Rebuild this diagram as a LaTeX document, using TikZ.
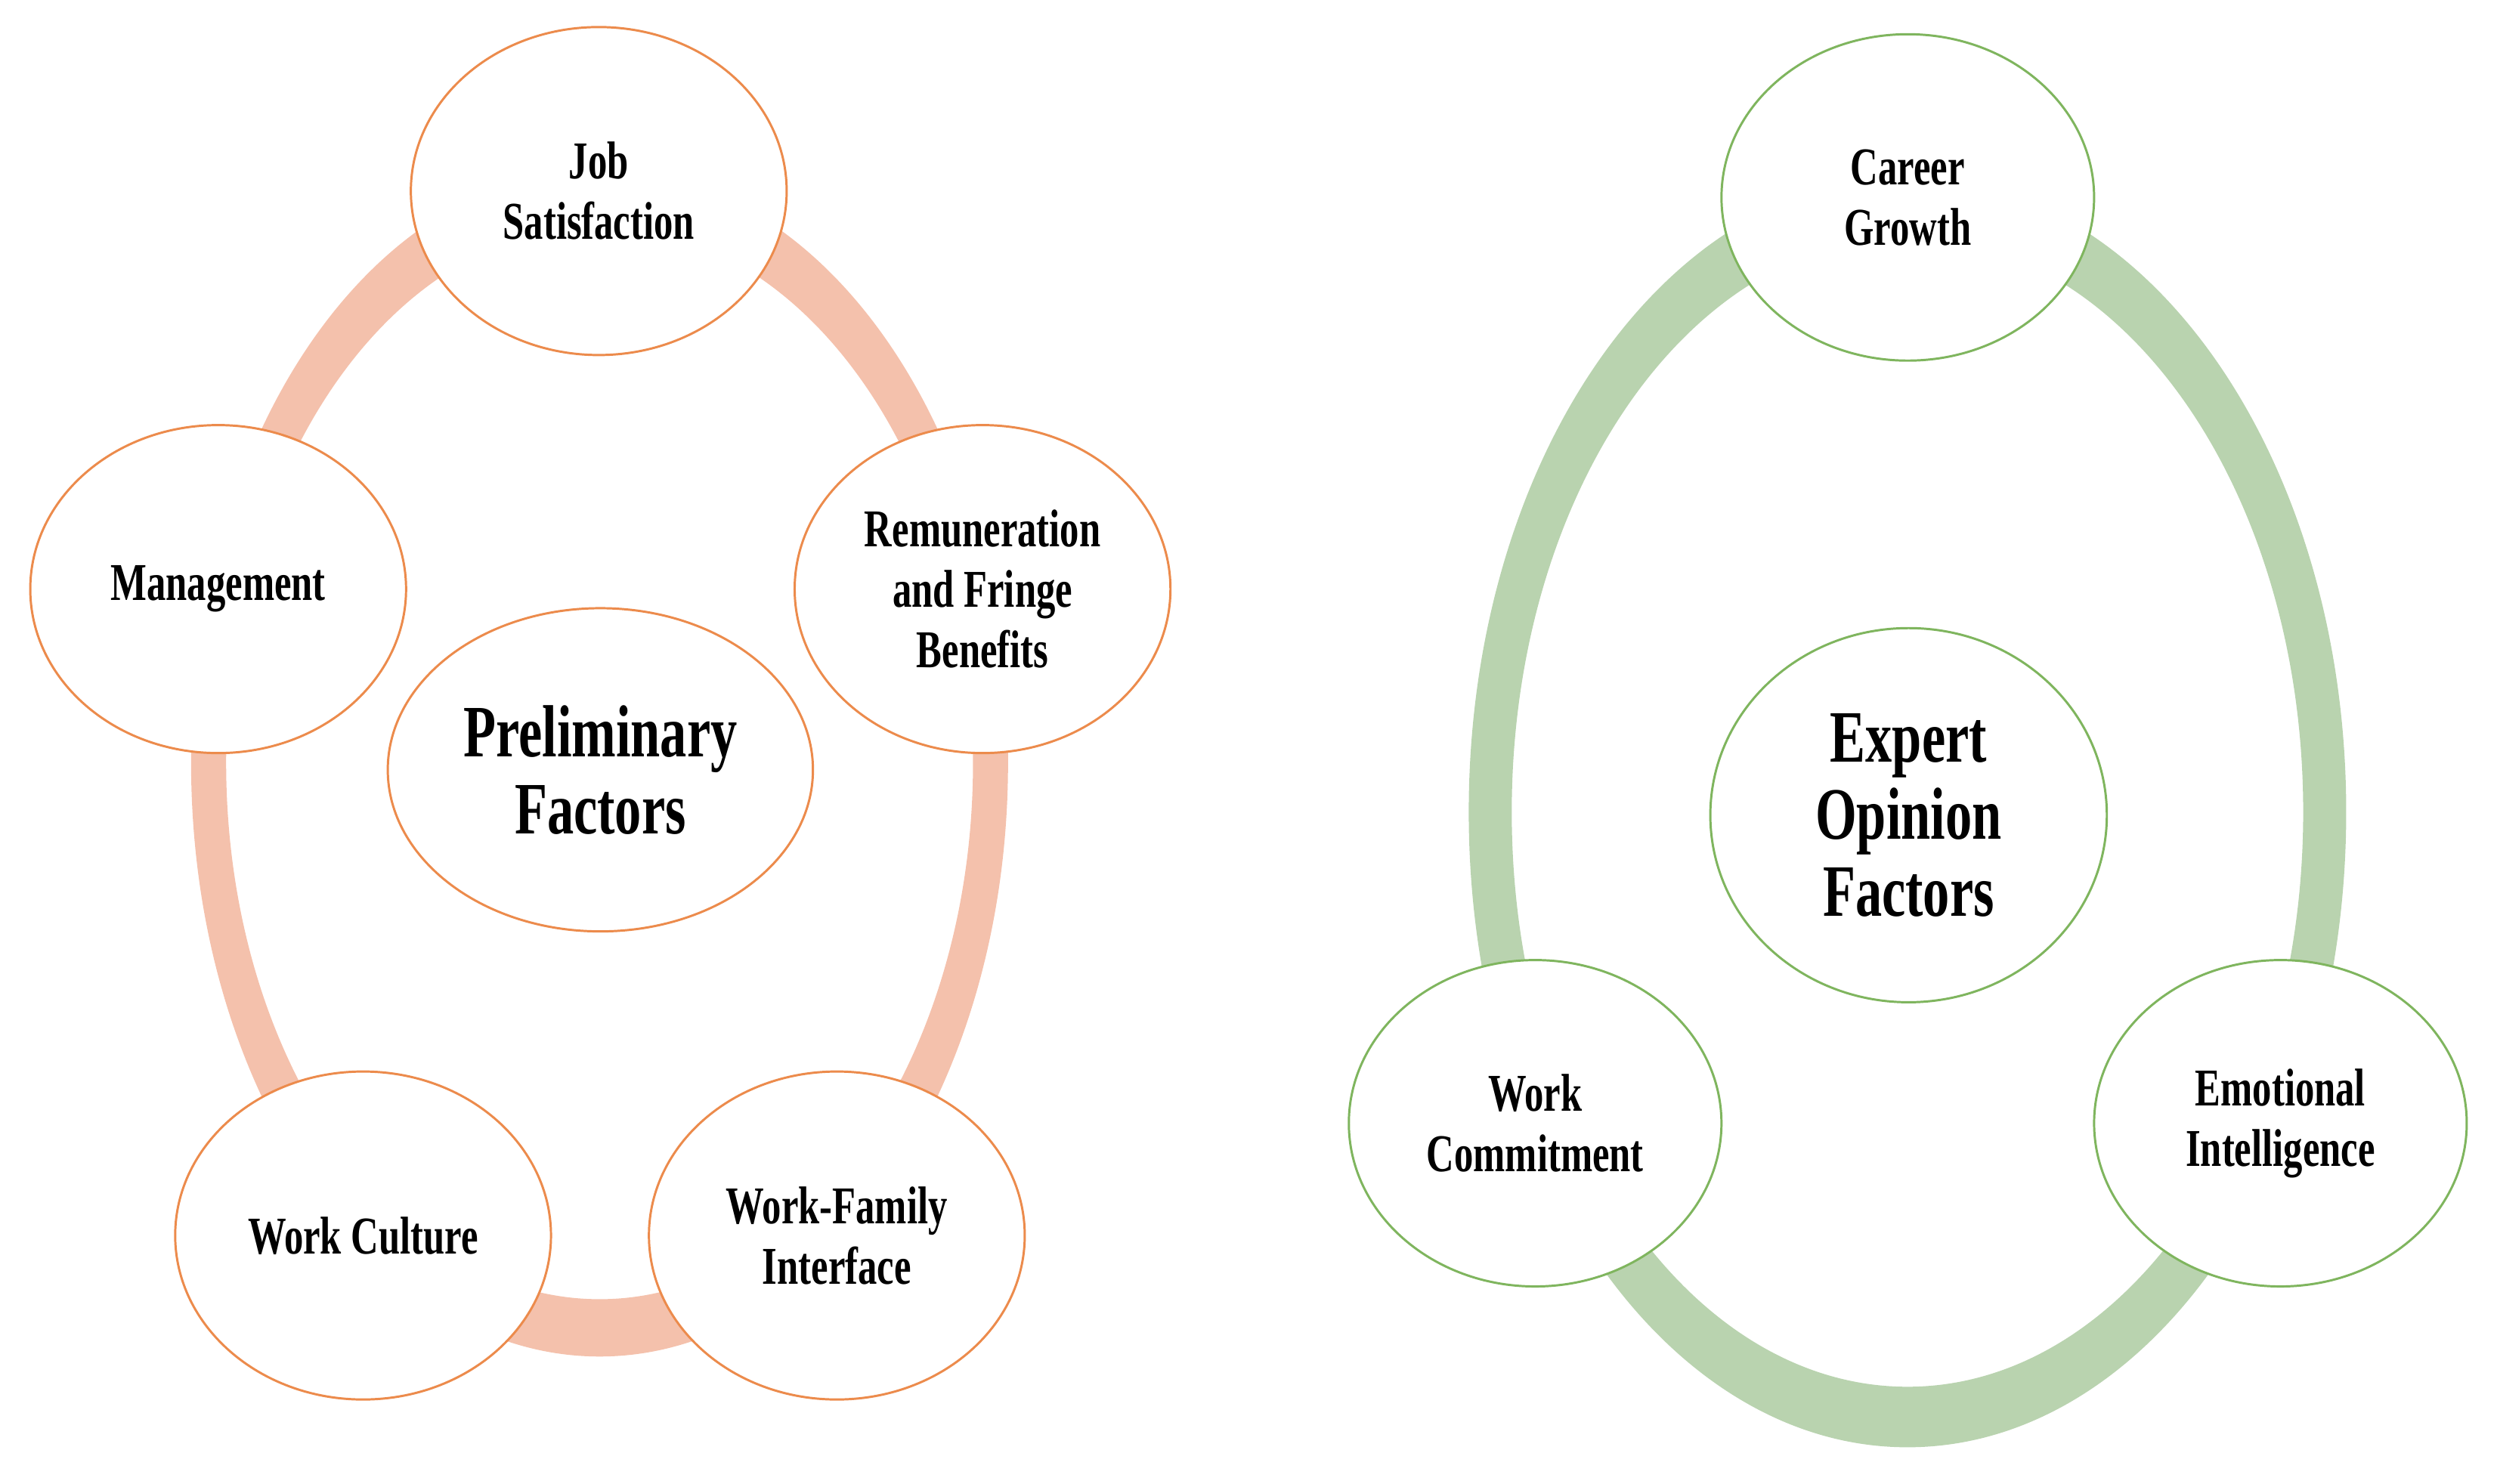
\documentclass[tikz,border=0pt]{standalone}
\usepackage{fontspec}
\newfontfamily\labfont[FakeStretch=0.72]{Liberation Serif}
\usetikzlibrary{shapes.geometric}
\definecolor{ringO}{HTML}{F4C1AC}
\definecolor{lineO}{HTML}{EC8B4C}
\definecolor{ringG}{HTML}{B9D3AF}
\definecolor{lineG}{HTML}{7FB55E}
\tikzset{
  bub/.style={ellipse, fill=white, line width=0.4pt, inner sep=0pt, align=center,
    font=\labfont\bfseries\fontsize{9.5}{10.8}\selectfont},
  obub/.style={bub, draw=lineO, minimum width=23.6mm, minimum height=20.6mm},
  gbub/.style={bub, draw=lineG, minimum width=23.4mm, minimum height=20.5mm},
  bigtxt/.style={font=\labfont\bfseries\fontsize{13.2}{13.8}\selectfont},
}
\begin{document}
\begin{tikzpicture}[x=0.1mm,y=-0.1mm]
\useasboundingbox (0,0) rectangle (1568,932);
% orange ring
\fill[ringO, even odd rule] (376.5,479) ellipse [x radius=256.5, y radius=373]
  (376.5,479) ellipse [x radius=234.5, y radius=337];
% green ring
\fill[ringG, even odd rule] (1197.8,510) ellipse [x radius=275.5, y radius=399]
  (1197.8,510) ellipse [x radius=248.5, y radius=361];
% left cluster
\node[obub] (js) at (376,120) {Job\\Satisfaction};
\node[obub] (mg) at (137,370) {Management};
\node[obub] (rem) at (617,370) {Remuneration\\and Fringe\\Benefits};
\node[obub, bigtxt, minimum width=26.7mm, minimum height=20.3mm] (pf) at (377,483.5) {Preliminary\\Factors};
\node[obub] (wc) at (228,776) {Work Culture};
\node[obub] (wf) at (525.5,776) {Work-Family\\Interface};
% right cluster
\node[gbub] (cg) at (1198,124) {Career\\Growth};
\node[gbub, bigtxt, minimum width=24.9mm, minimum height=23.5mm] (eo) at (1198.5,512) {Expert\\Opinion\\Factors};
\node[gbub] (wcm) at (964,705.5) {Work\\Commitment};
\node[gbub] (ei) at (1432,705.5) {Emotional\\Intelligence};
\end{tikzpicture}
\end{document}
